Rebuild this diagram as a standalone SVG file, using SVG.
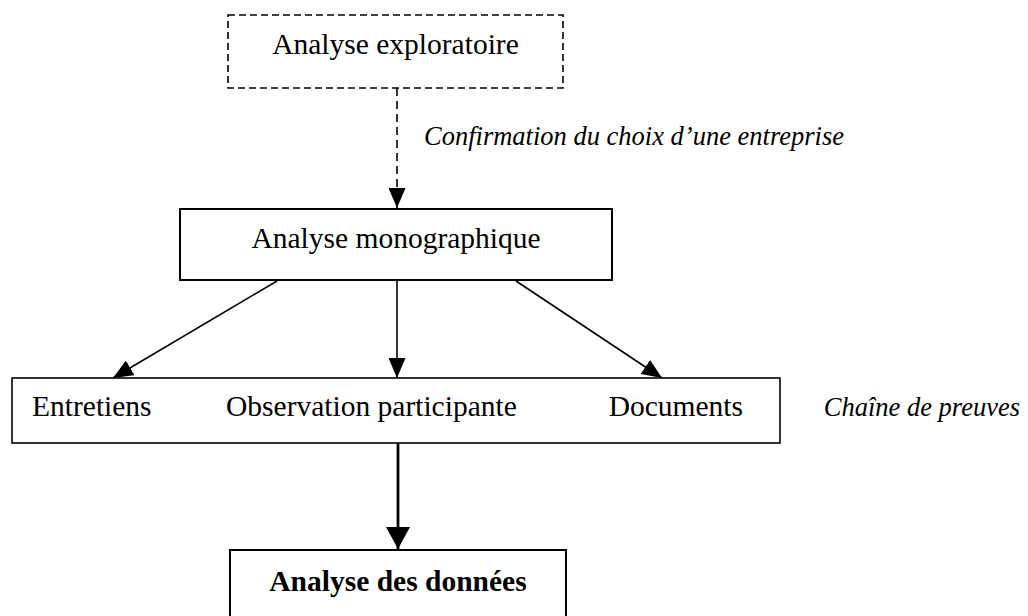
<svg xmlns="http://www.w3.org/2000/svg" width="1028" height="616" viewBox="0 0 1028 616">
  <defs>
    <!-- filled triangular heads; tip sits on the line end -->
    <marker id="tip" viewBox="0 0 20 17" refX="20" refY="8.5" markerWidth="20" markerHeight="17" markerUnits="userSpaceOnUse" orient="auto">
      <path d="M0,0 L20,8.5 L0,17 Z" fill="#000"/>
    </marker>
    <marker id="tip-big" viewBox="0 0 22 24" refX="22" refY="12" markerWidth="22" markerHeight="24" markerUnits="userSpaceOnUse" orient="auto">
      <path d="M0,0 L22,12 L0,24 Z" fill="#000"/>
    </marker>
  </defs>
  <style>
    .box { fill: #fff; stroke: #000; stroke-width: 2; }
    .dash { stroke-dasharray: 7 4; }
    .txt { font-family: "Liberation Serif", "Times New Roman", serif; font-size: 29.5px; fill: #000; }
    .mid { text-anchor: middle; }
    .end { text-anchor: end; }
    .it { font-style: italic; font-size: 26.5px; }
    .bold { font-weight: bold; }
    .link { stroke: #000; stroke-width: 1.6; fill: none; marker-end: url(#tip); }
    .thick { stroke-width: 2.8; marker-end: url(#tip-big); }
  </style>

  <!-- connectors -->
  <g id="connectors">
    <line class="link" style="stroke-dasharray:8 5" x1="397" y1="88" x2="397" y2="208"/>
    <line class="link" x1="277" y1="281" x2="113" y2="378"/>
    <line class="link" x1="397" y1="280" x2="397" y2="378"/>
    <line class="link" x1="516" y1="281" x2="662" y2="378"/>
    <line class="link thick" x1="398" y1="443" x2="398" y2="549"/>
  </g>

  <g id="analyse-exploratoire">
    <rect class="box dash" style="stroke-width:1.6" x="228" y="15" width="335" height="73"/>
    <text class="txt mid" x="395.5" y="54">Analyse exploratoire</text>
  </g>

  <g id="label-confirmation">
    <text class="txt it" x="424" y="145">Confirmation du choix d’une entreprise</text>
  </g>

  <g id="analyse-monographique">
    <rect class="box" x="180" y="209" width="432" height="71"/>
    <text class="txt mid" x="396" y="248">Analyse monographique</text>
  </g>

  <g id="sources">
    <rect class="box" style="stroke-width:1.6" x="12" y="378" width="768" height="65"/>
    <text class="txt" x="32" y="416">Entretiens</text>
    <text class="txt" x="226" y="416">Observation participante</text>
    <text class="txt end" x="743" y="416">Documents</text>
  </g>

  <g id="label-chaine">
    <text class="txt it end" x="1020" y="416">Chaîne de preuves</text>
  </g>

  <g id="analyse-donnees">
    <rect class="box" x="230" y="550" width="336" height="80"/>
    <text class="txt mid bold" x="398" y="591">Analyse des données</text>
  </g>
</svg>
